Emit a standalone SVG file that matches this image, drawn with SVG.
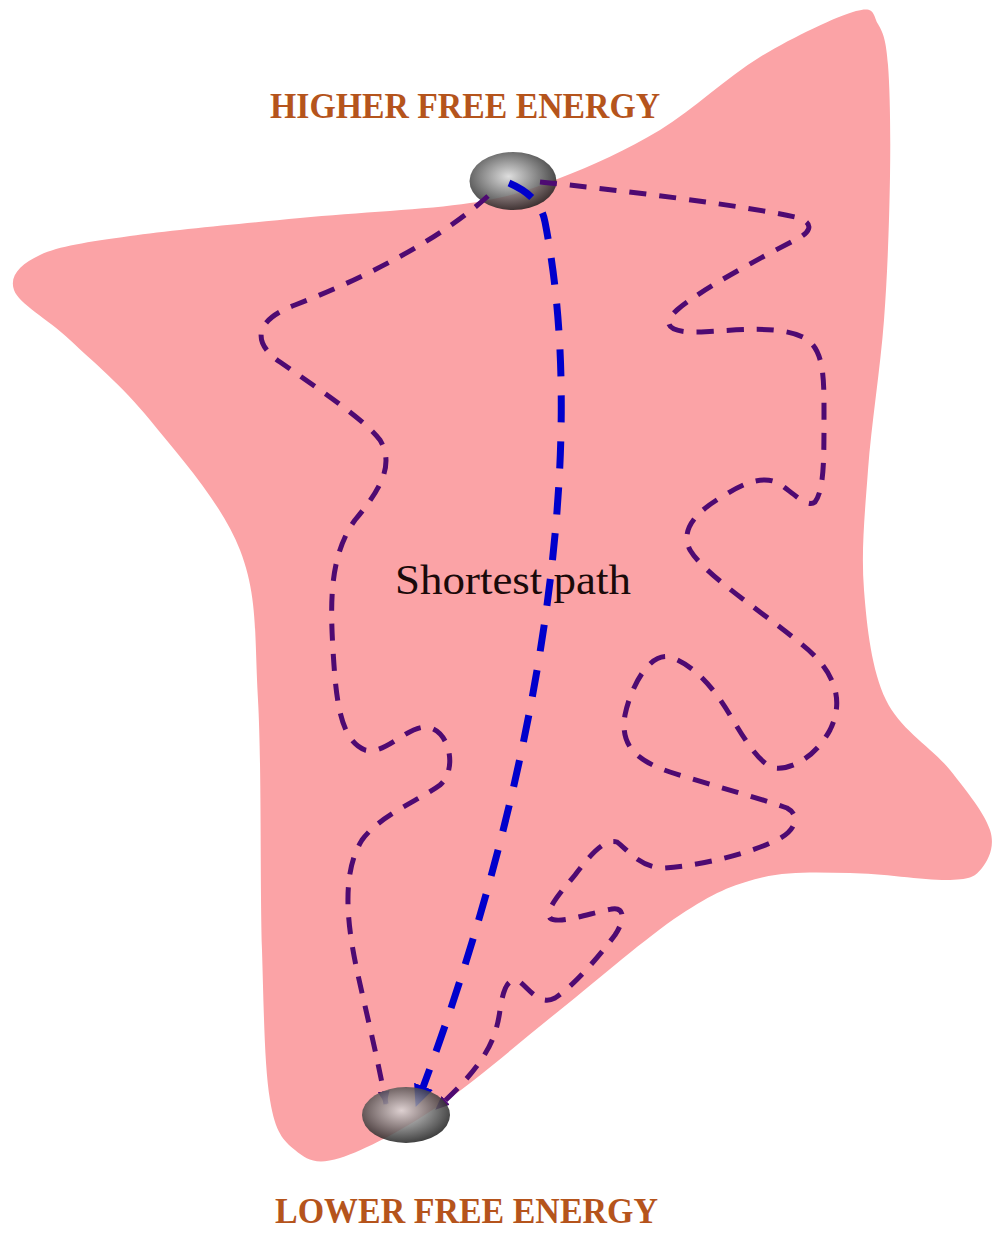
<svg xmlns="http://www.w3.org/2000/svg" width="992" height="1233" viewBox="0 0 992 1233">
<style>
.label{font-family:"Liberation Serif","Times New Roman",serif;font-weight:bold;font-size:35px;fill:#B5541C}
.mid{font-family:"Liberation Serif","Times New Roman",serif;font-size:42px;fill:#1a0a0a}
.purple{fill:none;stroke:#4E0A72;stroke-width:5;stroke-dasharray:17 13;stroke-linecap:butt}
.blue{fill:none;stroke:#0000CC;stroke-width:7;stroke-dasharray:27 19}
.ball{fill:url(#ballGrad);opacity:0.85}
</style>
<defs>
<radialGradient id="ballGrad" cx="0.45" cy="0.42" r="0.6">
<stop offset="0" stop-color="#d8d8d8"/>
<stop offset="0.5" stop-color="#7a7a7a"/>
<stop offset="1" stop-color="#1a1a1a"/>
</radialGradient>
<marker id="arrowBlue" viewBox="0 0 22 20" markerWidth="22" markerHeight="20" refX="21" refY="10" orient="auto" markerUnits="userSpaceOnUse">
<path d="M0,0 L22,10 L0,20 z" fill="#0000CC"/>
</marker>
<marker id="arrowPurple" viewBox="0 0 14 12" markerWidth="14" markerHeight="12" refX="13" refY="6" orient="auto" markerUnits="userSpaceOnUse">
<path d="M0,0 L14,6 L0,12 z" fill="#4E0A72"/>
</marker>
</defs>
<rect width="992" height="1233" fill="#ffffff"/>
<path id="landscape" fill="#FBA3A6" d="M856,11 C875.7,5.5 872.7,15 878,24 C883.3,33 886,39.7 888,65 C890,90.3 890.7,133.5 890,176 C889.3,218.5 887.7,271 884,320 C880.3,369 871.3,425 868,470 C864.7,515 861,551.7 864,590 C867,628.3 871.7,670 886,700 C900.3,730 932.7,748.3 950,770 C967.3,791.7 984.7,813.7 990,830 C995.3,846.3 988.7,859.7 982,868 C975.3,876.3 972,879.2 950,880 C928,880.8 881.7,873.3 850,873 C818.3,872.7 788.3,871 760,878 C731.7,885 713.3,893 680,915 C646.7,937 600,978.3 560,1010 C520,1041.7 476.7,1080.3 440,1105 C403.3,1129.7 364.2,1150.5 340,1158 C315.8,1165.5 306.7,1159.7 295,1150 C283.3,1140.3 275.5,1133.3 270,1100 C264.5,1066.7 264,1016.7 262,950 C260,883.3 261.7,766.7 258,700 C254.3,633.3 258,596.7 240,550 C222,503.3 178.3,455 150,420 C121.7,385 92.7,361.7 70,340 C47.3,318.3 19,304.2 14,290 C9,275.8 20.7,264 40,255 C59.3,246 86.7,242.2 130,236 C173.3,229.8 243.3,223.5 300,218 C356.7,212.5 426.7,209.7 470,203 C513.3,196.3 528.3,190.2 560,178 C591.7,165.8 626.7,150.2 660,130 C693.3,109.8 727.3,76.8 760,57 C792.7,37.2 836.3,16.5 856,11 Z"/>
<g id="node-high">
<ellipse class="ball" cx="513" cy="181" rx="43.5" ry="29"/>
</g>
<g id="connectors">
<path id="path-left" class="purple" marker-end="url(#arrowPurple)" d="M488,196 C440,240 360,280 295,305 C250,322 255,345 280,362 C320,390 365,420 380,440 C395,465 380,490 355,520 C330,555 330,600 333,650 C336,700 340,740 365,750 C385,755 405,728 425,727 C450,728 458,770 440,785 C420,800 380,815 362,840 C340,875 348,930 358,975 C368,1020 378,1060 386,1104"/>
<path id="path-right" class="purple" marker-end="url(#arrowPurple)" d="M540,182 C620,190 740,205 795,217 C815,222 812,232 795,240 C760,258 700,290 677,310 C660,325 670,333 700,332 C740,330 780,325 805,338 C825,350 824,380 824,420 C824,460 824,490 815,502 C808,508 795,495 780,484 C765,475 745,482 725,495 C695,512 680,530 690,550 C705,575 760,610 800,643 C835,670 845,700 830,730 C815,758 790,770 775,768 C760,765 745,740 730,715 C715,690 695,665 670,657 C648,652 630,690 625,715 C620,745 635,760 670,772 C710,785 760,798 787,808 C800,815 797,830 777,840 C750,853 705,865 665,868 C640,868 628,850 617,842 C605,838 590,855 575,875 C560,893 545,910 550,918 C558,925 590,913 612,909 C625,907 625,920 615,935 C600,955 575,985 555,998 C540,1006 530,990 520,982 C508,975 503,990 500,1010 C496,1040 485,1065 436,1109"/>
<path id="path-shortest" class="blue" marker-end="url(#arrowBlue)" d="M509,183 C530,192 542,205 545,222 C590,450 540,780 416,1106"/>
</g>
<g id="node-low">
<ellipse class="ball" cx="406" cy="1115" rx="44" ry="28"/>
</g>
<g id="labels">
<text class="label" x="270" y="118" textLength="390" lengthAdjust="spacingAndGlyphs">HIGHER FREE ENERGY</text>
<text class="mid" x="395" y="594" textLength="236" lengthAdjust="spacingAndGlyphs">Shortest path</text>
<text class="label" x="275" y="1223" textLength="383" lengthAdjust="spacingAndGlyphs">LOWER FREE ENERGY</text>
</g>
</svg>
